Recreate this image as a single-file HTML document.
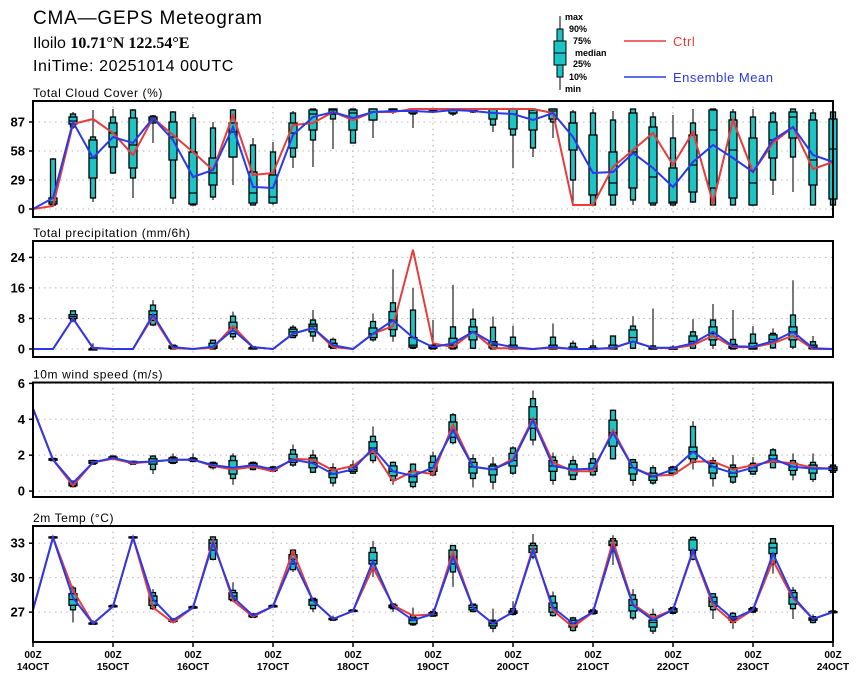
<!DOCTYPE html>
<html><head><meta charset="utf-8"><style>
html,body{margin:0;padding:0;background:#fff;}
body{width:860px;height:680px;overflow:hidden;font-family:"Liberation Sans",sans-serif;}
svg text{font-family:"Liberation Sans",sans-serif;}
</style></head><body>
<svg id="chart" width="860" height="680" xmlns="http://www.w3.org/2000/svg">
<g>
<text x="33" y="24" font-size="19" letter-spacing="0.8" fill="#000">CMA—GEPS Meteogram</text>
<text x="33" y="48" font-size="16" fill="#000">Iloilo <tspan font-weight="bold" font-family="Liberation Serif">10.71°N 122.54°E</tspan></text>
<text x="33" y="71" font-size="16" letter-spacing="0.6" fill="#000">IniTime: 20251014 00UTC</text>
</g>
<g font-size="9" font-weight="bold">
<line x1="560" y1="16" x2="560" y2="90" stroke="#000" stroke-width="1"/>
<rect x="557" y="29" width="6" height="48" fill="#1ec3c3" stroke="#000"/>
<rect x="554" y="41" width="12" height="24" fill="#1ec3c3" stroke="#000"/>
<line x1="554" y1="53" x2="566" y2="53" stroke="#000"/>
<text x="565" y="20">max</text><text x="569" y="32">90%</text><text x="573" y="44">75%</text>
<text x="575" y="56">median</text><text x="573" y="67">25%</text><text x="569" y="80">10%</text><text x="565" y="92">min</text>
<line x1="624" y1="41" x2="666" y2="41" stroke="#e83c3c" stroke-width="1.5"/>
<text x="673" y="46" font-size="13" font-weight="normal" letter-spacing="0.5" fill="#e83c3c">Ctrl</text>
<line x1="624" y1="77" x2="666" y2="77" stroke="#2a3ae8" stroke-width="1.5"/>
<text x="673" y="82" font-size="13" font-weight="normal" letter-spacing="0.5" fill="#2a3ae8">Ensemble Mean</text>
</g>
</svg>
<script>
// ---- data ----
const dayLabels = ["14OCT","15OCT","16OCT","17OCT","18OCT","19OCT","20OCT","21OCT","22OCT","23OCT","24OCT"];
const cloudCtrl = [0,3,85,90,76,54,91,74,57,39,94,34,36,84,86,97,89,97,97,100,100,100,100,100,100,100,96,4,4,42,59,76,44,77,6,89,37,66,82,40,47];
const cloudMean = [0,11,87,51,72,66,91,69,32,39,82,22,21,74,92,97,91,97,98,98,97,99,98,96,95,89,96,72,36,37,56,41,22,47,64,51,37,69,82,54,47];
const cloudBox = [null,[3,4,5,7,11,50,51],[80,82,85,88,92,95,97],[7,11,31,51,69,72,99],[35,36,62,76,86,92,100],[11,31,41,64,91,99,100],[66,86,88,90,92,93,94],[5,11,49,72,87,97,98],[4,4,5,16,57,91,95],[9,12,24,36,51,81,87],[24,52,52,77,86,99,100],[4,4,6,16,37,64,71],[4,6,6,12,34,57,67],[41,52,61,76,86,96,98],[42,69,79,95,99,100,100],[60,90,95,99,100,100,100],[66,66,79,96,99,100,100],[71,89,89,97,100,100,100],[95,97,98,99,100,100,100],[81,95,96,98,100,100,100],[97,98,99,100,100,100,100],[93,95,96,99,100,100,100],[96,97,98,99,100,100,100],[77,84,90,96,100,100,100],[41,74,80,95,100,100,100],[52,61,79,96,99,100,100],[71,87,90,98,100,100,100],[4,29,59,86,86,97,99],[4,4,14,14,74,96,100],[4,4,14,26,57,89,98],[4,9,21,57,96,100,100],[4,4,6,32,82,92,97],[4,4,6,7,41,71,94],[6,7,17,44,74,86,100],[4,4,21,79,99,100,100],[4,4,11,59,89,97,100],[4,4,4,26,71,92,100],[14,29,51,69,87,96,98],[17,52,71,92,97,100,100],[4,4,24,49,89,96,100],[4,4,10,60,90,97,100]];
const cloudTicks = [0,29,58,87];

const precCtrl = [0,0,8,0.2,0,0,8.5,0.2,0,0.3,6,0.5,0,4,5.5,0.5,0,4,6,26,1.5,0.5,4.5,0.2,0.2,0,0.3,0,0,0.2,2,0.3,0.2,1,3.5,0.5,0.5,1.5,3.5,0,0];
const precMean = [0,0,8,0.3,0,0,9,0.5,0,0.6,5,0.5,0,4,5.5,1,0,4,7.5,3,0.5,1.5,4.5,1.5,0.5,0,0.5,0,0,0.3,2,0.3,0.3,1.5,4.5,0.7,0.6,2,4.5,0.2,0];
const precBox = [null,null,[7,7.5,8,8.5,9,10,10],[0,0,0,0,0,0.3,1.5],null,null,[6,6.3,7.5,9,10,11.5,12.8],[0,0,0.2,0.5,0.8,1,1.2],null,[0,0,0.2,0.6,1.5,2.3,2.5],[2.4,3.2,4,5.5,7,8.6,9.8],[0,0,0,0.1,0.3,0.6,0.8],null,[2.8,3,3.5,4.5,5.2,5.7,6.3],[1.9,3.4,4.5,6,6.5,7.6,10.2],[0,0.2,0.5,0.8,1.5,2.5,3],null,[1.9,2.4,3,4,5.5,7.2,9.3],[1.9,3.4,5.1,7.6,9.8,12.1,20.9],[0,0.2,0.5,1,3,10.2,16],[0,0,0.2,0.5,0.8,1,7.6],[0,0,0.3,1,2.8,5.8,16.8],[0,0.2,2.4,4.5,5.8,7.8,10.6],[0,0,0.3,1,1.9,5.7,8.5],[0,0,0,0.1,1,3.1,6.1],null,[0,0,0,0.2,1,3.1,6.7],[0,0,0,0.1,0.5,1.5,2.2],[0,0,0,0,0.3,0.8,2.5],[0,0,0,0.1,1,3.4,3.4],[0,0.2,1.9,3,5,6,8.6],[0,0,0,0,0.3,0.8,10.6],[0,0,0,0,0.2,0.5,1],[0,0.2,1.5,2,3.4,4.5,7.8],[0,1,2.4,4,5.8,7.6,11.8],[0,0,0.2,0.5,1.2,2.5,10.2],[0,0,0,0.3,1.5,3.9,6],[0,0.3,1.9,2.5,3.7,4.1,5.4],[0,0.5,2.4,4.5,5.8,8.9,18],[0,0,0.1,0.5,1,1.9,3.4],null];
const precTicks = [0,8,16,24];

const windCtrl = [4.6,1.75,0.3,1.6,1.8,1.55,1.65,1.75,1.75,1.4,1.2,1.35,1.1,1.8,1.75,1.15,1.4,2.25,0.55,1.1,0.95,3.7,1.35,1.2,1.8,4.05,1.6,1.1,1.1,3.4,1.3,0.85,0.9,1.65,1.65,1.2,1.45,1.65,1.55,1.3,1.25];
const windMean = [4.6,1.75,0.45,1.6,1.85,1.6,1.65,1.75,1.75,1.45,1.3,1.45,1.2,1.75,1.55,0.95,1.2,2.4,1.1,0.85,1.3,3.4,1.35,1.2,1.7,3.95,1.4,1.2,1.25,3.25,1.3,0.8,1.2,2.2,1.35,1.0,1.3,1.8,1.35,1.25,1.25];
const windBox = [null,[1.65,1.7,1.72,1.75,1.8,1.82,1.85],[0.2,0.25,0.3,0.4,0.5,0.55,0.6],[1.5,1.5,1.55,1.6,1.7,1.7,1.75],[1.75,1.8,1.8,1.85,1.9,1.95,1.95],[1.5,1.5,1.55,1.6,1.65,1.65,1.7],[0.95,1.2,1.5,1.65,1.8,1.95,2.0],[1.5,1.55,1.6,1.75,1.85,1.9,2.1],[1.6,1.65,1.7,1.75,1.8,1.85,2.1],[1.2,1.3,1.35,1.45,1.55,1.6,1.65],[0.35,0.7,0.95,1.3,1.7,1.95,2.1],[1.15,1.2,1.3,1.45,1.55,1.6,1.65],[1.05,1.1,1.15,1.2,1.3,1.35,1.4],[1.35,1.45,1.6,1.8,2.05,2.3,2.6],[1.0,1.05,1.3,1.6,1.85,2.0,2.3],[0.25,0.45,0.75,0.95,1.15,1.3,1.55],[0.95,1.0,1.1,1.2,1.35,1.45,1.7],[1.55,1.7,2.1,2.4,2.75,3.05,3.6],[0.35,0.6,0.85,1.1,1.4,1.6,1.65],[0.15,0.25,0.5,0.8,1.1,1.5,1.55],[0.85,0.9,1.1,1.3,1.6,1.95,2.2],[2.6,2.7,3.0,3.4,3.85,4.25,4.35],[0.2,0.7,1.0,1.35,1.6,1.8,2.05],[0.1,0.5,0.9,1.2,1.4,1.5,1.9],[0.9,1.0,1.4,1.7,2.1,2.4,2.5],[2.55,2.85,3.5,4.0,4.7,5.15,5.6],[0.35,0.6,1.1,1.4,1.7,1.9,2.15],[0.6,0.65,0.9,1.2,1.5,1.7,1.95],[0.85,0.9,1.1,1.25,1.55,1.8,2.15],[1.75,1.8,2.5,3.25,3.95,4.5,4.55],[0.3,0.6,0.95,1.3,1.6,1.75,1.8],[0.35,0.45,0.6,0.8,1.0,1.3,1.45],[0.9,0.95,1.0,1.2,1.3,1.35,1.4],[1.2,1.6,1.8,2.2,2.45,3.6,3.9],[0.25,0.7,1.0,1.35,1.55,1.7,1.9],[0.4,0.5,0.8,1.0,1.3,1.45,2.0],[0.9,0.95,1.1,1.3,1.45,1.55,1.9],[1.25,1.3,1.6,1.8,2.0,2.3,2.4],[0.6,0.9,1.15,1.35,1.55,1.7,2.1],[0.5,0.65,1.0,1.25,1.45,1.6,2.1],[1.0,1.05,1.15,1.25,1.35,1.45,1.5]];
const windTicks = [0,2,4,6];

const tempCtrl = [27.2,33.5,28.9,26.0,27.5,33.5,27.4,26.1,27.4,33.25,28.0,26.6,27.5,32.3,28.0,26.4,27.1,30.9,27.6,26.7,26.8,32.25,27.4,26.0,27.0,32.6,27.15,25.7,27.0,33.2,27.7,26.5,27.2,32.25,27.6,26.1,27.2,31.5,28.2,26.4,27.0];
const tempMean = [27.2,33.5,28.25,26.0,27.5,33.5,28.1,26.3,27.4,33.0,28.3,26.7,27.5,31.6,28.0,26.4,27.1,31.45,27.5,26.3,26.85,31.8,27.4,26.0,27.0,32.4,27.4,26.0,27.0,32.7,27.6,26.3,27.2,32.4,27.9,26.4,27.2,32.1,28.35,26.4,27.0];
const tempBox = [null,[33.4,33.45,33.5,33.5,33.55,33.55,33.6],[26.1,27.2,27.6,28.1,28.6,29.1,29.3],[25.9,25.95,26.0,26.0,26.05,26.1,26.3],[27.4,27.45,27.5,27.5,27.55,27.6,27.6],[33.4,33.45,33.5,33.5,33.55,33.55,33.6],[27.2,27.3,27.6,28.0,28.4,28.7,29.0],[26.1,26.15,26.2,26.3,26.35,26.4,26.5],[27.3,27.35,27.4,27.4,27.45,27.5,27.5],[31.5,31.6,32.4,33.0,33.3,33.55,33.6],[27.9,28.0,28.1,28.4,28.7,28.9,29.6],[26.5,26.55,26.6,26.7,26.8,26.85,26.9],[27.4,27.45,27.5,27.5,27.55,27.6,27.6],[30.5,30.7,31.2,31.6,32.0,32.4,32.5],[27.0,27.3,27.6,28.0,28.1,28.2,28.25],[26.25,26.3,26.35,26.4,26.45,26.5,26.7],[27.0,27.05,27.1,27.1,27.15,27.2,27.2],[30.05,30.7,31.2,31.5,32.2,32.6,33.2],[27.0,27.3,27.4,27.5,27.6,27.7,27.8],[25.8,25.9,26.0,26.3,26.5,26.7,27.4],[26.6,26.65,26.7,26.85,26.95,27.05,27.3],[29.2,30.5,31.2,31.8,32.4,32.8,32.8],[27.0,27.05,27.2,27.4,27.6,27.7,27.75],[25.25,25.6,25.8,26.0,26.2,26.3,27.3],[26.7,26.8,26.9,27.0,27.1,27.3,27.95],[31.6,31.8,32.2,32.5,32.8,33.0,33.8],[26.6,26.7,27.0,27.4,27.8,28.4,28.8],[25.3,25.4,25.7,26.0,26.3,26.5,26.6],[26.8,26.85,26.9,27.0,27.1,27.2,27.4],[31.1,32.6,32.8,32.9,33.2,33.4,33.7],[26.3,26.5,27.1,27.6,28.1,28.5,29.0],[25.1,25.35,25.7,26.1,26.3,26.8,27.3],[26.8,26.9,27.0,27.2,27.3,27.4,27.5],[31.5,31.6,32.4,32.4,33.3,33.5,33.6],[26.4,27.2,27.5,27.9,28.3,28.6,28.6],[25.55,26.1,26.3,26.4,26.6,26.9,27.0],[26.9,27.0,27.1,27.2,27.3,27.4,27.5],[30.35,31.2,32.1,32.6,33.0,33.4,33.4],[26.4,27.3,27.7,28.3,28.7,28.9,29.2],[26.0,26.1,26.3,26.4,26.5,26.6,26.8],[26.9,26.95,27.0,27.0,27.05,27.1,27.1]];
const tempTicks = [27,30,33];

// ---- drawing ----
const NS = "http://www.w3.org/2000/svg";
const svg = document.getElementById('chart');
const X0 = 33, X1 = 833, NSTEP = 40;
function xScale(i){ return X0 + (X1 - X0) * i / NSTEP; }
function mk(tag, attrs, parent){
  const e = document.createElementNS(NS, tag);
  for (const k in attrs) e.setAttribute(k, attrs[k]);
  (parent || svg).appendChild(e);
  return e;
}
const RED = "#e83c3c", BLUE = "#2a3ae8", FILL = "#1ec3c3";

function panel(key, title, top, bottom, vmin, vmax, ticks, ctrl, mean, boxes, xlabels){
  const g = mk('g', {});
  
  
  const yScale = v => bottom - (v - vmin) / (vmax - vmin) * (bottom - top);
  const t = mk('text', {x: X0, y: top - 4, 'font-size': 12, 'letter-spacing': 0.6, fill: '#000'}, g);
  
  
  t.textContent = title;
  ticks.forEach(v => {
    const y = yScale(v);
    const l = mk('line', {x1: X0, x2: X1, y1: y, y2: y, stroke: '#bbb', 'stroke-width': 1, 'stroke-dasharray': '1.5,4'}, g);
    
    
    mk('line', {x1: X0 - 4, x2: X0, y1: y, y2: y, stroke: '#000', 'stroke-width': 1.5}, g);
    const tl = mk('text', {x: X0 - 8, y: y + 4.5, 'font-size': 13, 'font-weight': 'bold', 'text-anchor': 'end'}, g);
    
    
    tl.textContent = String(v);
  });
  for (let d = 1; d < dayLabels.length - 1; d++) {
    const x = xScale(d * 4);
    const l = mk('line', {x1: x, x2: x, y1: top, y2: bottom, stroke: '#aaa', 'stroke-width': 1, 'stroke-dasharray': '1.5,4'}, g);
    
    
  }
  boxes.forEach((b, i) => {
    if (!b) return;
    const x = xScale(i);
    const bg = mk('g', {}, g);
    
    
    mk('line', {x1: x, x2: x, y1: yScale(b[6]), y2: yScale(b[0]), stroke: '#222', 'stroke-width': 1.2}, bg);
    mk('rect', {x: x - 2.5, y: yScale(b[5]), width: 5, height: Math.max(1, yScale(b[1]) - yScale(b[5])), fill: FILL, stroke: '#000', 'stroke-width': 1.3}, bg);
    mk('rect', {x: x - 4, y: yScale(b[4]), width: 8, height: Math.max(1, yScale(b[2]) - yScale(b[4])), fill: FILL, stroke: '#000', 'stroke-width': 1.3}, bg);
    mk('line', {x1: x - 4, x2: x + 4, y1: yScale(b[3]), y2: yScale(b[3]), stroke: '#000', 'stroke-width': 1.2}, bg);
  });
  const pts = arr => arr.map((v, i) => xScale(i).toFixed(1) + ',' + yScale(v).toFixed(1)).join(' ');
  const cl = mk('polyline', {points: pts(ctrl), fill: 'none', stroke: RED, 'stroke-width': 2}, g);
  
  
  const ml = mk('polyline', {points: pts(mean), fill: 'none', stroke: BLUE, 'stroke-width': 2}, g);
  
  
  const fr = mk('rect', {x: X0, y: top, width: X1 - X0, height: bottom - top, fill: 'none', stroke: '#000', 'stroke-width': 2}, g);
  
  
  if (xlabels) {
    dayLabels.forEach((lab, d) => {
      const x = xScale(d * 4);
      mk('line', {x1: x, x2: x, y1: bottom, y2: bottom + 5, stroke: '#000', 'stroke-width': 1.5}, g);
      const a = mk('text', {x: x, y: bottom + 16, 'font-size': 10, 'font-weight': 'bold', 'text-anchor': 'middle'}, g);
      
      
      a.textContent = '00Z';
      const b = mk('text', {x: x, y: bottom + 28, 'font-size': 10, 'font-weight': 'bold', 'text-anchor': 'middle'}, g);
      
      
      b.textContent = lab;
    });
  }
}
panel('cloud', 'Total Cloud Cover (%)', 101, 217, -8, 108, cloudTicks, cloudCtrl, cloudMean, cloudBox, false);
panel('precip', 'Total precipitation (mm/6h)', 241, 357, -2.1, 28.3, precTicks, precCtrl, precMean, precBox, false);
panel('wind', '10m wind speed (m/s)', 382.5, 497, -0.33, 6.05, windTicks, windCtrl, windMean, windBox, false);
panel('temp', '2m Temp (°C)', 526, 642, 24.4, 34.5, tempTicks, tempCtrl, tempMean, tempBox, true);
</script>
</body></html>
